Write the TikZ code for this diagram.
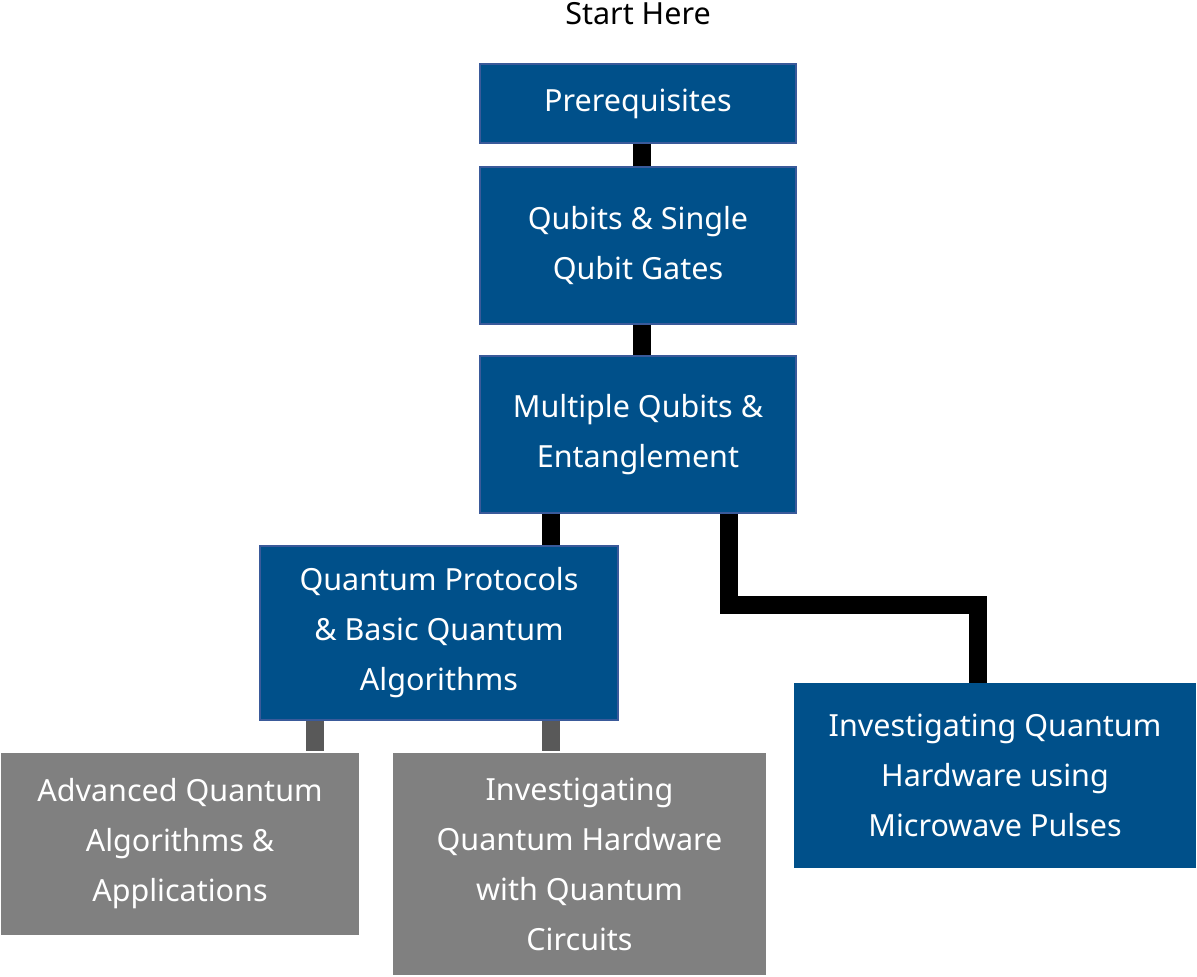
\documentclass[tikz,border=0pt]{standalone}
\usepackage{fontspec}
\setmainfont{Noto Sans}
\definecolor{stepblue}{HTML}{00508A}
\definecolor{stepedge}{HTML}{3A5A9A}
\definecolor{stepgray}{HTML}{808080}
\definecolor{linkgray}{HTML}{595959}
\begin{document}
\begin{tikzpicture}[x=1pt,y=-1pt,
  box/.style={draw=stepedge,line width=1.5pt,fill=stepblue,text=white,align=center,
    inner sep=0pt,font=\fontsize{30.5}{50}\selectfont},
  graybox/.style={box,draw=white,fill=stepgray},
  link/.style={line width=18pt,draw=black},
  graylink/.style={line width=18pt,draw=linkgray}]
\useasboundingbox (0,0) rectangle (1197,977);
% learning steps, placed by their centres and sizes
\node[box,minimum width=316pt,minimum height=79pt] (pre) at (638,103.5) {Prerequisites};
\node[box,minimum width=316pt,minimum height=157pt] (qub) at (638,245.5) {Qubits \& Single\\Qubit Gates};
\node[box,minimum width=316pt,minimum height=157pt] (mul) at (638,434.5) {Multiple Qubits \&\\Entanglement};
\node[box,minimum width=358pt,minimum height=174pt] (pro) at (439,633) {Quantum Protocols\\\& Basic Quantum\\Algorithms};
\node[graybox,minimum width=360pt,minimum height=184pt] (adv) at (180,844) {Advanced Quantum\\Algorithms \&\\Applications};
\node[graybox,minimum width=375pt,minimum height=224pt] (cir) at (579.5,864) {Investigating\\Quantum Hardware\\with Quantum\\Circuits};
\node[box,draw=stepblue,minimum width=401pt,minimum height=183pt] (mic) at (995,775.5) {Investigating Quantum\\Hardware using\\Microwave Pulses};
\node[font=\fontsize{30.5}{50}\selectfont] (start) at (638,14) {Start Here};
% connectors between the steps
\coordinate (m1) at ([xshift=91pt]mul.south);
\coordinate (c1) at ([xshift=-17pt]mic.north);
\draw[link] ([xshift=4pt]pre.south) -- ([xshift=4pt]qub.north);
\draw[link] ([xshift=4pt]qub.south) -- ([xshift=4pt]mul.north);
\draw[link] ([xshift=-87pt]mul.south) -- ([xshift=112pt]pro.north);
\draw[link] (m1) -- (m1 |- 0,605) -- (c1 |- 0,605) -- (c1);
\draw[graylink] ([xshift=-124pt]pro.south) -- ([xshift=135pt]adv.north);
\draw[graylink] ([xshift=112pt]pro.south) -- ([xshift=-28.5pt]cir.north);
\end{tikzpicture}
\end{document}
